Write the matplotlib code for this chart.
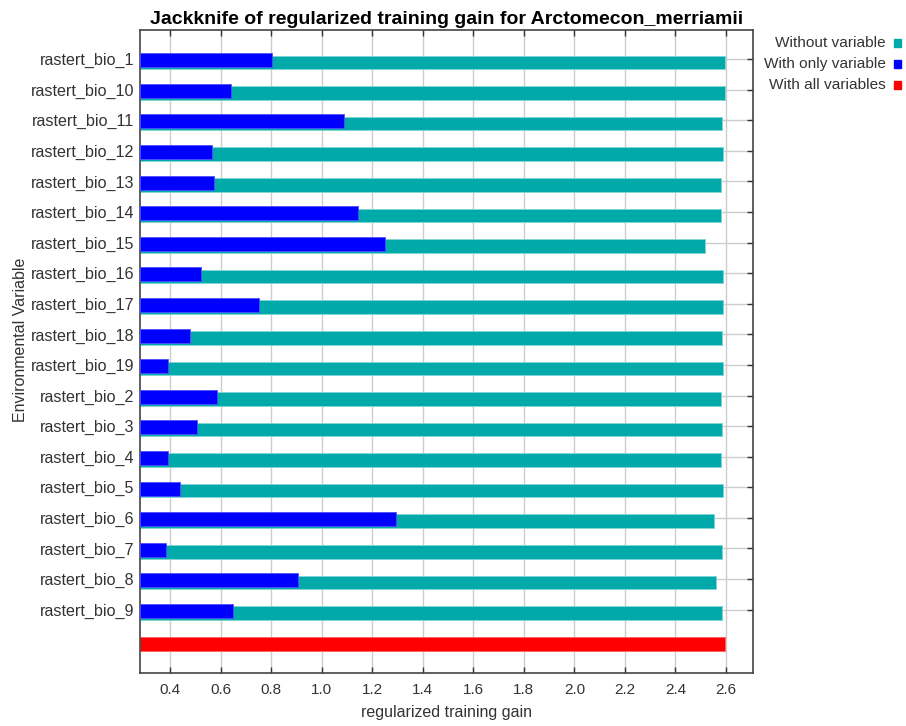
import matplotlib
matplotlib.use('Agg')
import matplotlib.pyplot as plt
from matplotlib.patches import Rectangle

plt.rcParams['font.family'] = ['Liberation Sans', 'DejaVu Sans']

# values
variables = ['rastert_bio_1', 'rastert_bio_10', 'rastert_bio_11', 'rastert_bio_12',
             'rastert_bio_13', 'rastert_bio_14', 'rastert_bio_15', 'rastert_bio_16',
             'rastert_bio_17', 'rastert_bio_18', 'rastert_bio_19', 'rastert_bio_2',
             'rastert_bio_3', 'rastert_bio_4', 'rastert_bio_5', 'rastert_bio_6',
             'rastert_bio_7', 'rastert_bio_8', 'rastert_bio_9']
without_var = [2.596, 2.596, 2.585, 2.590, 2.580, 2.580, 2.519, 2.590, 2.589, 2.585,
               2.590, 2.580, 2.585, 2.580, 2.590, 2.553, 2.585, 2.559, 2.585]
only_var = [0.804, 0.642, 1.090, 0.567, 0.574, 1.145, 1.249, 0.522, 0.754, 0.480,
            0.393, 0.584, 0.507, 0.393, 0.440, 1.296, 0.383, 0.905, 0.651]
all_vars = 2.598

legend_labels = ['Without variable', 'With only variable', 'With all variables']
teal, blue, red = '#00AAAA', '#0000FF', '#FF0000'

x0 = 0.281

fig = plt.figure(figsize=(9.06, 7.26), dpi=100)
ax = fig.add_axes([0.1545, 0.073, 0.6766, 0.8857])

ypos = list(range(len(variables)))
ax.barh([y + 0.11 for y in ypos], [v - x0 for v in without_var], left=x0, height=0.445,
        color=teal, edgecolor='#7FD4D4', linewidth=0.6, zorder=2)
ax.barh([y + 0.04 for y in ypos], [v - x0 for v in only_var], left=x0, height=0.46,
        color=blue, edgecolor='#5050FF', linewidth=0.6, zorder=3)
ax.barh([len(variables) + 0.11], [all_vars - x0], left=x0, height=0.46,
        color=red, edgecolor='#FF6060', linewidth=0.6, zorder=2)

ax.set_xlim(x0, 2.707)
ax.set_ylim(20.07, -0.95)
ax.set_xticks([0.4 + 0.2 * i for i in range(12)])
ax.set_xticklabels(['%.1f' % (0.4 + 0.2 * i) for i in range(12)])
ax.set_yticks(ypos)
ax.set_yticklabels(variables)

ax.grid(True, color='#CCCCCC', linewidth=1.0, zorder=0)
ax.set_axisbelow(True)
ax.tick_params(direction='in', length=4, width=1, color='#333333',
               top=True, right=True, labelcolor='#333333')
ax.tick_params(axis='x', pad=7, labelsize=11)
ax.tick_params(axis='y', pad=4, labelsize=11.6)
for s in ax.spines.values():
    s.set_color('#444444')
    s.set_linewidth(1.2)

ax.set_title('Jackknife of regularized training gain for Arctomecon_merriamii',
             fontsize=14, fontweight='bold', pad=4)
ax.set_xlabel('regularized training gain', fontsize=11.5, color='#333333', labelpad=6)
ax.set_ylabel('Environmental Variable', fontsize=11.5, color='#333333')
ax.yaxis.set_label_coords(-0.182, 0.518)

# legend: text right-aligned with a small square after it
for i, (lab, col) in enumerate(zip(legend_labels, [teal, blue, red])):
    yy = 1 - (43 + 21 * i) / 726
    fig.text(886 / 906, yy, lab, ha='right', va='center', fontsize=11.1, color='#333333')
    fig.add_artist(Rectangle((894 / 906, yy - 3.5 / 726), 7 / 906, 7 / 726,
                             transform=fig.transFigure, color=col))

fig.savefig('out.png', dpi=100)
